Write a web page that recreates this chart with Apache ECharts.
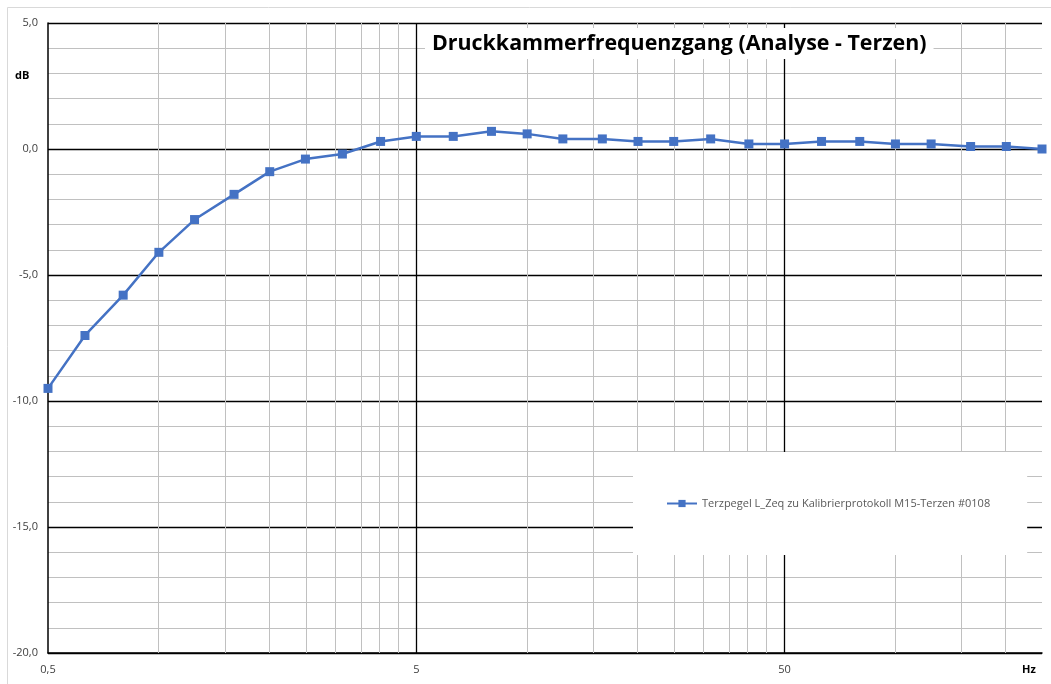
<!DOCTYPE html>
<html>
<head>
<meta charset="utf-8">
<script src="https://cdn.jsdelivr.net/npm/echarts@6/dist/echarts.min.js"></script>
<style>
  html, body { margin: 0; padding: 0; background: #fff; }
  #main { width: 1051px; height: 684px; }
</style>
</head>
<body>
<div id="main"></div>
<script>
// Terzmittenfrequenzen (Hz) und Pegel (dB)
var freqs = [0.5, 0.63, 0.8, 1, 1.25, 1.6, 2, 2.5, 3.15, 4, 5, 6.3, 8, 10, 12.5, 16, 20, 25, 31.5, 40, 50, 63, 80, 100, 125, 160, 200, 250];
var levels = [-9.5, -7.4, -5.8, -4.1, -2.8, -1.8, -0.9, -0.4, -0.2, 0.3, 0.5, 0.5, 0.7, 0.6, 0.4, 0.4, 0.3, 0.3, 0.4, 0.2, 0.2, 0.3, 0.3, 0.2, 0.2, 0.1, 0.1, 0.0];
// Gitterlinien wie im Excel-Log-Diagramm (Basis 0,5)
var majorGrid = [5, 50];
var minorGrid = [1, 1.5, 2, 2.5, 3, 3.5, 4, 4.5, 10, 15, 20, 25, 30, 35, 40, 45, 100, 150, 200, 250];
var fMin = 0.5, fMax = 500;

var seriesName = 'Terzpegel L_Zeq zu Kalibrierprotokoll M15-Terzen #0108';
var font = '"Open Sans", "Noto Sans", sans-serif';

function lx(f) { return Math.log10(f / fMin); }

var chartDom = document.getElementById('main');
var myChart = echarts.init(chartDom);

var gridLines = minorGrid.map(function (f) {
  return { xAxis: lx(f), lineStyle: { color: '#c0c0c0', width: 1, type: 'solid' } };
}).concat(majorGrid.map(function (f) {
  return { xAxis: lx(f), lineStyle: { color: '#000', width: 1.3, type: 'solid' } };
}));

var option = {
  animation: false,
  backgroundColor: '#fff',
  title: {
    text: 'Druckkammerfrequenzgang (Analyse - Terzen)',
    left: 425,
    top: 28,
    padding: [5, 7, 5, 7],
    backgroundColor: '#fff',
    textStyle: { fontFamily: font, fontSize: 21.4, fontWeight: 'bold', color: '#000' }
  },
  legend: {
    left: 633,
    top: 452,
    orient: 'horizontal',
    padding: [46, 37, 46, 33],
    backgroundColor: '#fff',
    itemWidth: 30,
    itemHeight: 9,
    itemGap: 4,
    z: 8,
    data: [seriesName],
    textStyle: { fontFamily: font, fontSize: 11, color: '#595959' }
  },
  graphic: [
    { type: 'rect', shape: { x: 7.5, y: 7.5, width: 1100, height: 700 }, style: { fill: 'none', stroke: '#d9d9d9', lineWidth: 1 }, z: -1 },
    { type: 'text', left: 15, top: 70, style: { text: 'dB', font: 'bold 11px ' + font, fill: '#000' } },
    { type: 'text', left: 1022, top: 664, style: { text: 'Hz', font: 'bold 11px ' + font, fill: '#000' } }
  ],
  grid: { left: 48, right: 9, top: 23, bottom: 31, containLabel: false },
  xAxis: {
    type: 'value',
    min: 0,
    max: lx(250),
    interval: 1,
    axisLine: { onZero: false, lineStyle: { color: '#000', width: 1.5 } },
    axisTick: { show: false },
    splitLine: { show: false },
    axisLabel: {
      margin: 11,
      fontFamily: font, fontSize: 11, color: '#404040',
      showMaxLabel: false,
      formatter: function (v) {
        if (Math.abs(v - Math.round(v)) > 1e-6) return '';
        var f = fMin * Math.pow(10, Math.round(v));
        return String(f).replace('.', ',');
      }
    }
  },
  yAxis: {
    type: 'value',
    min: -20,
    max: 5,
    interval: 5,
    axisLine: { show: true, lineStyle: { color: '#000', width: 1.5 } },
    axisTick: { show: false },
    splitLine: { show: true, lineStyle: { color: '#000', width: 1.3 } },
    minorTick: { show: false, splitNumber: 5 },
    minorSplitLine: { show: true, lineStyle: { color: '#c0c0c0', width: 1 } },
    axisLabel: {
      margin: 10,
      fontFamily: font, fontSize: 11, color: '#404040',
      formatter: function (v) { return v.toFixed(1).replace('.', ','); }
    }
  },
  series: [
    {
      name: 'grid',
      type: 'line',
      data: [],
      z: 1,
      silent: true,
      markLine: {
        z: 1,
        silent: true,
        symbol: ['none', 'none'],
        label: { show: false },
        emphasis: { disabled: true },
        data: gridLines
      }
    },
    {
      name: seriesName,
      type: 'line',
      z: 3,
      data: freqs.map(function (f, i) { return [lx(f), levels[i]]; }),
      symbol: 'rect',
      symbolSize: 9,
      color: '#4472C4',
      lineStyle: { color: '#4472C4', width: 2.5 },
      itemStyle: { color: '#4472C4' }
    }
  ]
};

option && myChart.setOption(option);
window.addEventListener('resize', function () { myChart.resize(); });
</script>
</body>
</html>
